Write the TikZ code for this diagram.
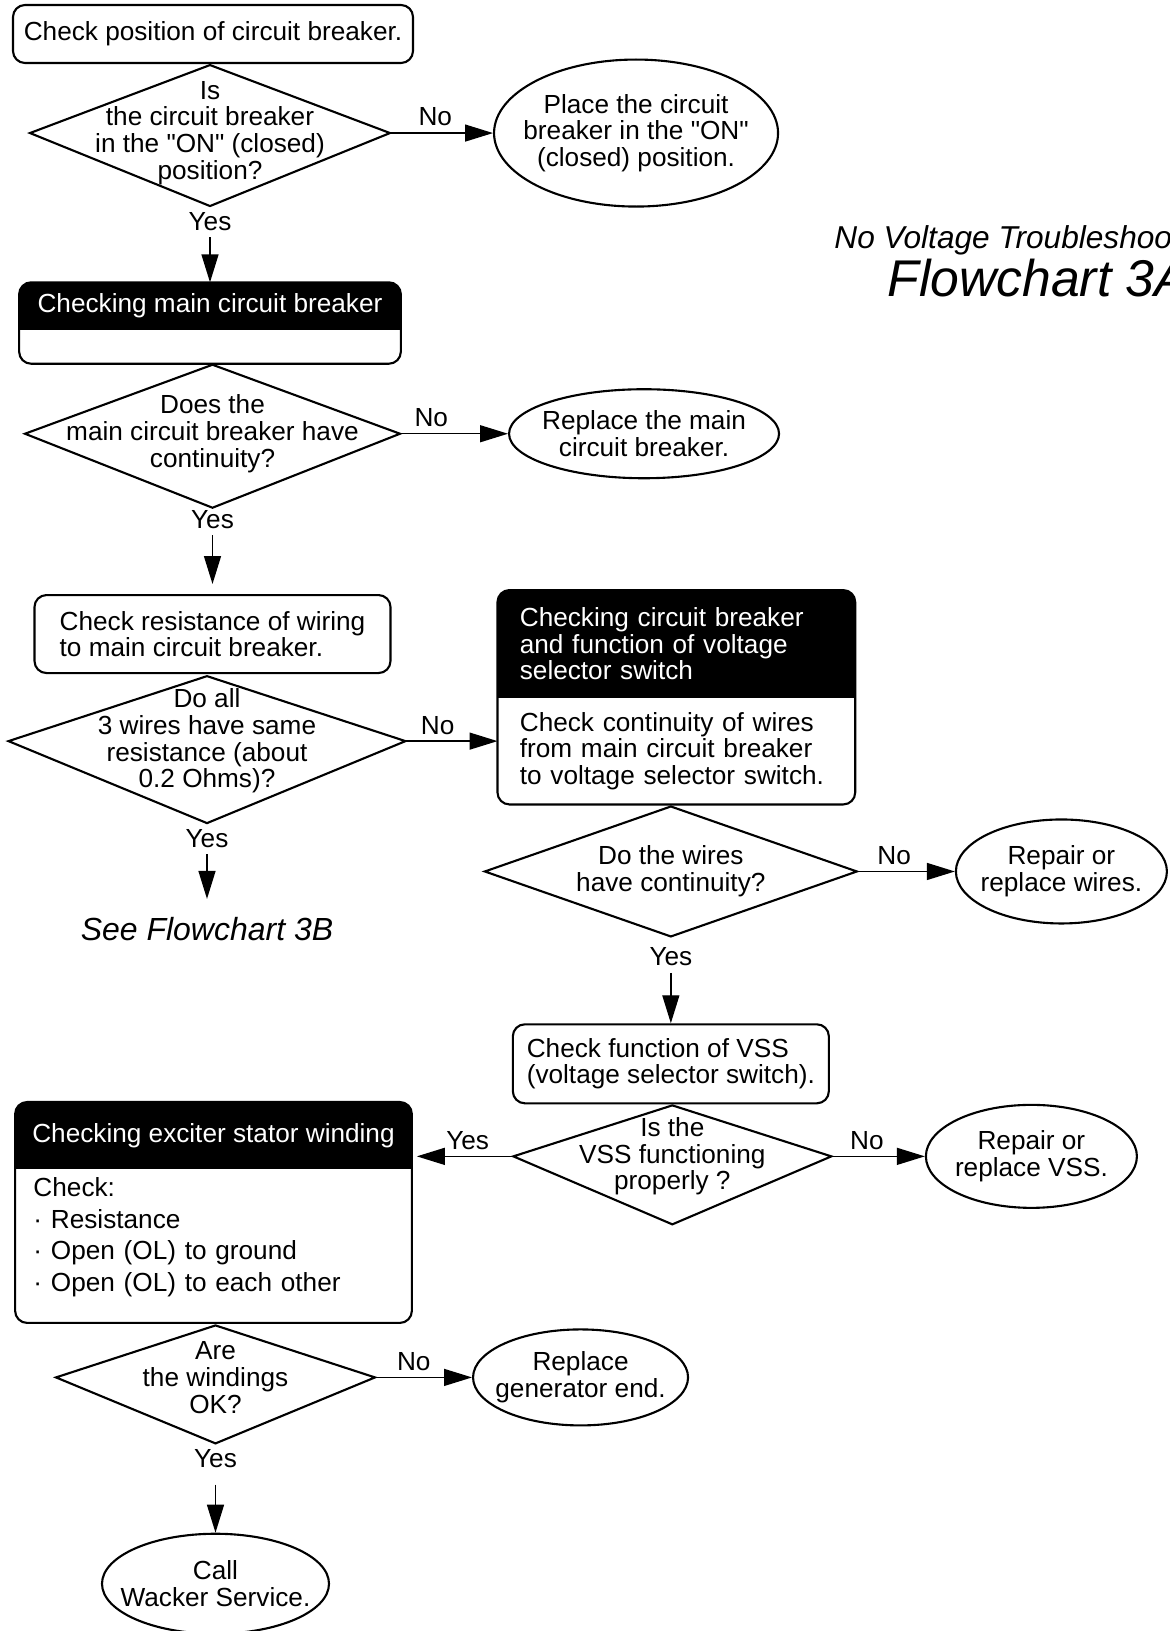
\documentclass[tikz,border=0pt]{standalone}
\usepackage{fontspec}
\setmainfont{Liberation Sans}[Ligatures=TeXOff]
\usepackage{tikz}
\usetikzlibrary{arrows.meta,positioning,shapes.geometric,backgrounds}
\tikzset{
  stepbox/.style={draw,line width=1.2pt,rounded corners=2.4mm,align=left,inner sep=1.5mm},
  hdr/.style={text=white,align=left,inner sep=0pt},
  hbody/.style={align=left,inner sep=0pt},
  qtext/.style={align=center,inner sep=0pt},
  dec/.style={line width=1.2pt,line join=miter},
  term/.style={draw,ellipse,line width=1.2pt,align=center,inner sep=-3mm},
  frame/.style={line width=1.2pt,rounded corners=2.4mm},
  ar/.style={-{Triangle[length=5.6mm,width=3.4mm]},line width=0.8pt},
  lab/.style={inner sep=3.5pt},
  seetxt/.style={inner sep=2pt,font=\fontsize{18.2}{20}\selectfont\itshape},
  ttl/.style={anchor=west,inner sep=0pt,font=\fontsize{18}{20}\selectfont\itshape},
  ttlbig/.style={anchor=west,inner sep=0pt,font=\fontsize{29.4}{32}\selectfont\itshape},
}
\begin{document}
\begin{tikzpicture}[font=\fontsize{14.9}{15.2}\selectfont]
    \useasboundingbox (-42.6mm,6.8mm) rectangle (191.2mm,-319.4mm);
    \node[stepbox,align=center,minimum width=80mm,minimum height=11.6mm] (chk) at (0,0) {Check position of circuit breaker.};
    \node[qtext] (q1) at ([xshift=-0.6mm,yshift=-13.8mm]chk.south) {Is\\the circuit breaker\\in the "ON" (closed)\\position?};
    \coordinate (q1n) at ([yshift=13.6mm]q1.center);
    \coordinate (q1e) at ([xshift=36mm]q1.center);
    \coordinate (q1s) at ([yshift=-14.6mm]q1.center);
    \coordinate (q1w) at ([xshift=-36mm]q1.center);
    \draw[dec] (q1n) -- (q1e) -- (q1s) -- (q1w) -- cycle;
    \node[term,right=20.6mm of q1e,minimum width=56.8mm,minimum height=29.4mm] (e1) {Place the circuit\\breaker in the "ON"\\(closed) position.};
    \node[ttl] (ttl1) at ([xshift=11mm,yshift=-21.4mm]e1.east) {No Voltage Troubleshooting};
    \node[ttlbig] (ttl2) at ([xshift=10.6mm,yshift=-7.6mm]ttl1.west) {Flowchart 3A};
    \node[lab,below=0mm of q1s] (y1) {Yes};
    \node[hdr,below=9mm of y1,minimum width=76.2mm,minimum height=9.4mm] (mcbh) {Checking main circuit breaker};
    \node[hbody,below=0mm of mcbh,minimum width=76.2mm,minimum height=6.6mm] (mcbb) {};
    \node[qtext] (q2) at ([xshift=0.5mm,yshift=-14mm]mcbb.south) {Does the\\main circuit breaker have\\continuity?};
    \coordinate (q2n) at ([yshift=13.8mm]q2.center);
    \coordinate (q2e) at ([xshift=37.5mm]q2.center);
    \coordinate (q2s) at ([yshift=-14.8mm]q2.center);
    \coordinate (q2w) at ([xshift=-37.5mm]q2.center);
    \draw[dec] (q2n) -- (q2e) -- (q2s) -- (q2w) -- cycle;
    \node[term,right=21.6mm of q2e,minimum width=54mm,minimum height=17.8mm] (e2) {Replace the main\\circuit breaker.};
    \node[lab,below=-0.8mm of q2s] (y2) {Yes};
    \node[stepbox,below=11.8mm of y2,minimum width=71.2mm,minimum height=15.6mm] (res) {Check resistance of wiring\\to main circuit breaker.};
    \node[qtext] (q3) at ([xshift=-1.1mm,yshift=-13.4mm]res.south) {Do all\\3 wires have same\\resistance (about\\0.2 Ohms)?};
    \coordinate (q3n) at ([yshift=13mm]q3.center);
    \coordinate (q3e) at ([xshift=39.7mm]q3.center);
    \coordinate (q3s) at ([yshift=-16.4mm]q3.center);
    \coordinate (q3w) at ([xshift=-39.7mm]q3.center);
    \draw[dec] (q3n) -- (q3e) -- (q3s) -- (q3w) -- cycle;
    \node[lab,below=0mm of q3s] (y3) {Yes};
    \node[seetxt,below=11.9mm of y3] (fc3b) {See Flowchart 3B};
    \node[hbody,right=18.4mm of q3e,yshift=-2mm,text width=62.6mm,inner xsep=4.4mm,minimum height=21.2mm] (vsb) {Check continuity of wires\\from main circuit breaker\\to voltage selector switch.};
    \node[hdr,above=0mm of vsb,text width=62.6mm,inner xsep=4.4mm,minimum height=21.4mm] (vsh) {Checking circuit breaker\\and function of voltage\\selector switch};
    \node[qtext] (q4) at ([xshift=-1.1mm,yshift=-13.4mm]vsb.south) {Do the wires\\have continuity?};
    \coordinate (q4n) at ([yshift=13mm]q4.center);
    \coordinate (q4e) at ([xshift=37.2mm]q4.center);
    \coordinate (q4s) at ([yshift=-13mm]q4.center);
    \coordinate (q4w) at ([xshift=-37.2mm]q4.center);
    \draw[dec] (q4n) -- (q4e) -- (q4s) -- (q4w) -- cycle;
    \node[term,right=19.6mm of q4e,minimum width=42.2mm,minimum height=20.8mm] (e3) {Repair or\\replace wires.};
    \node[lab,below=1mm of q4s] (y4) {Yes};
    \node[stepbox,below=10.1mm of y4,minimum width=63.2mm,minimum height=15.8mm] (vss) {Check function of VSS\\(voltage selector switch).};
    \node[qtext] (q5) at ([xshift=0.3mm,yshift=-10.4mm]vss.south) {Is the\\VSS functioning\\properly ?};
    \coordinate (q5n) at ([yshift=10.2mm]q5.center);
    \coordinate (q5e) at ([xshift=31.8mm]q5.center);
    \coordinate (q5s) at ([yshift=-13.6mm]q5.center);
    \coordinate (q5w) at ([xshift=-31.8mm]q5.center);
    \draw[dec] (q5n) -- (q5e) -- (q5s) -- (q5w) -- cycle;
    \node[term,right=18.7mm of q5e,minimum width=42.2mm,minimum height=20.6mm] (e4) {Repair or\\replace VSS.};
    \node[hdr,left=20.3mm of q5w,yshift=4.2mm,minimum width=79.2mm,minimum height=13.2mm] (exh) {Checking exciter stator winding};
    \node[hbody,below=0mm of exh,text width=72mm,inner xsep=3.6mm,minimum height=30.7mm,text depth=67pt,font=\fontsize{14.9}{18}\selectfont] (exb) {Check:\\· Resistance\\· Open (OL) to ground\\· Open (OL) to each other};
    \node[qtext] (q6) at ([xshift=0.4mm,yshift=-10.9mm]exb.south) {Are\\the windings\\OK?};
    \coordinate (q6n) at ([yshift=10.4mm]q6.center);
    \coordinate (q6e) at ([xshift=31.9mm]q6.center);
    \coordinate (q6s) at ([yshift=-13.2mm]q6.center);
    \coordinate (q6w) at ([xshift=-31.9mm]q6.center);
    \draw[dec] (q6n) -- (q6e) -- (q6s) -- (q6w) -- cycle;
    \node[term,right=19.4mm of q6e,minimum width=43mm,minimum height=19.2mm] (e5) {Replace\\generator end.};
    \node[lab,below=0mm of q6s] (y6) {Yes};
    \node[term,below=11.6mm of y6,minimum width=45.4mm,minimum height=20mm] (e6) {Call\\Wacker Service.};
    \begin{scope}[on background layer]
      \begin{scope}
        \clip[rounded corners=2.4mm] (mcbh.north west) rectangle (mcbb.south east);
        \fill (mcbh.north west) rectangle (mcbh.south east);
      \end{scope}
      \begin{scope}
        \clip[rounded corners=2.4mm] (vsh.north west) rectangle (vsb.south east);
        \fill (vsh.north west) rectangle (vsh.south east);
      \end{scope}
      \begin{scope}
        \clip[rounded corners=2.4mm] (exh.north west) rectangle (exb.south east);
        \fill (exh.north west) rectangle (exh.south east);
      \end{scope}
    \end{scope}
    \draw[frame] (mcbh.north west) rectangle (mcbb.south east);
    \draw[frame] (vsh.north west) rectangle (vsb.south east);
    \draw[frame] (exh.north west) rectangle (exb.south east);
    \draw[ar] (q1e) -- node[lab,above,pos=.44] (n1) {No} (e1);
    \draw[ar] (y1) -- (mcbh);
    \draw[ar] (q2e) -- node[lab,above,pos=.29] (n2) {No} (e2);
    \draw[ar,shorten >=2mm] (y2) -- (res);
    \draw[ar] (q3e) -- node[lab,above,pos=.35] (n3) {No} (q3e -| vsb.west);
    \draw[ar,shorten >=3mm] (y3) -- (fc3b);
    \draw[ar] (q4e) -- node[lab,above,pos=.38] (n4) {No} (e3);
    \draw[ar] (y4) -- (vss);
    \draw[ar,shorten >=1mm] (q5w) -- node[lab,above,pos=.45] (y5) {Yes} (q5w -| exh.east);
    \draw[ar] (q5e) -- node[lab,above,pos=.38] (n5) {No} (e4);
    \draw[ar] (q6e) -- node[lab,above,pos=.4] (n6) {No} (e5);
    \draw[ar,shorten <=2mm] (y6) -- (e6);
\end{tikzpicture}
\end{document}
